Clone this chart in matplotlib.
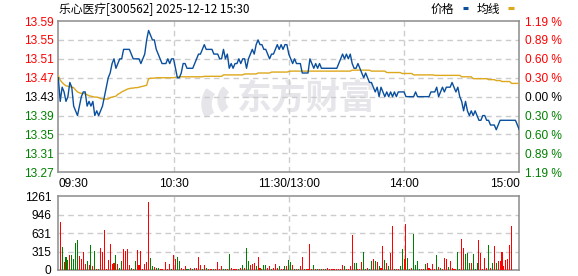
import numpy as np
import matplotlib
matplotlib.use("Agg")
import matplotlib.pyplot as plt
from matplotlib.patches import Wedge

# 乐心医疗 分时数据
prev_close = 13.43

price = [
    13.47, 13.42, 13.45, 13.44, 13.42, 13.43, 13.46, 13.45, 13.41, 13.40,
    13.39, 13.41, 13.43, 13.44, 13.44, 13.41, 13.42, 13.41, 13.42, 13.39,
    13.40, 13.39, 13.40, 13.41, 13.43, 13.45, 13.47, 13.48, 13.50, 13.51,
    13.49, 13.50, 13.51, 13.51, 13.53, 13.53, 13.53, 13.53, 13.52, 13.51,
    13.51, 13.51, 13.51, 13.50, 13.51, 13.52, 13.55, 13.57, 13.56, 13.55,
    13.55, 13.53, 13.52, 13.51, 13.50, 13.50, 13.50, 13.51, 13.50, 13.51,
    13.51, 13.49, 13.47, 13.47, 13.48, 13.50, 13.50, 13.49, 13.49, 13.49,
    13.49, 13.50, 13.51, 13.52, 13.52, 13.53, 13.54, 13.53, 13.53, 13.53,
    13.53, 13.52, 13.52, 13.52, 13.51, 13.51, 13.53, 13.51, 13.52, 13.49,
    13.50, 13.49, 13.50, 13.50, 13.51, 13.50, 13.51, 13.51, 13.49, 13.51,
    13.52, 13.53, 13.52, 13.54, 13.55, 13.54, 13.54, 13.53, 13.53, 13.52,
    13.51, 13.52, 13.52, 13.53, 13.54, 13.53, 13.54, 13.53, 13.54, 13.54,
    13.52, 13.51, 13.50, 13.51, 13.50, 13.50, 13.50, 13.48, 13.48, 13.48,
    13.48, 13.51, 13.50, 13.49, 13.50, 13.49, 13.50, 13.49, 13.49, 13.49,
    13.49, 13.49, 13.49, 13.49, 13.49, 13.49, 13.50, 13.51, 13.52, 13.51,
    13.52, 13.51, 13.52, 13.50, 13.49, 13.49, 13.50, 13.49, 13.48, 13.47,
    13.48, 13.47, 13.46, 13.46, 13.45, 13.44, 13.45, 13.43, 13.45, 13.44,
    13.43, 13.44, 13.43, 13.44, 13.43, 13.44, 13.43, 13.44, 13.44, 13.44,
    13.44, 13.43, 13.43, 13.43, 13.43, 13.43, 13.44, 13.43, 13.43, 13.43,
    13.43, 13.43, 13.43, 13.43, 13.44, 13.44, 13.44, 13.45, 13.43, 13.44,
    13.45, 13.44, 13.45, 13.45, 13.45, 13.46, 13.45, 13.44, 13.45, 13.43,
    13.42, 13.40, 13.42, 13.40, 13.39, 13.40, 13.39, 13.40, 13.39, 13.38,
    13.38, 13.39, 13.39, 13.38, 13.38, 13.37, 13.37, 13.37, 13.36, 13.37,
    13.38, 13.38, 13.38, 13.38, 13.38, 13.38, 13.38, 13.38, 13.38, 13.37,
    13.36,
]

avg = (
    [13.474, 13.465, 13.460, 13.456, 13.453, 13.452, 13.451, 13.450, 13.449, 13.444,
     13.440, 13.438, 13.437, 13.437, 13.436, 13.434, 13.432, 13.431, 13.430, 13.429,
     13.429, 13.428, 13.426, 13.425, 13.425, 13.425, 13.425, 13.428, 13.429, 13.430,
     13.431, 13.435, 13.437, 13.440, 13.442, 13.444, 13.446, 13.447, 13.448, 13.448,
     13.449, 13.449, 13.450, 13.451, 13.452, 13.453, 13.454, 13.468, 13.469, 13.469,
     13.469]
    + [13.470] * 10 + [13.471] + [13.472] * 14 + [13.473] * 10
    + [13.476] * 11 + [13.478] * 7 + [13.480] * 7 + [13.482] * 9 + [13.483]
    + [13.484] * 32 + [13.486] * 10 + [13.484] * 8 + [13.481] * 8
    + [13.479] * 6 + [13.476] * 11 + [13.475] * 14 + [13.472] * 6
    + [13.468] * 8 + [13.466] * 4 + [13.464] * 3 + [13.462] * 5 + [13.458] * 5
)

volume = [
    0,
    820, 393, 137, 222, 177, 257, 257, 188, 462, 513,
    240, 188, 308, 103, 148, 86, 428, 68, 325, 17,
    17, 376, 308, 684, 17, 171, 445, 103, 120, 257,
    103, 34, 154, 359, 325, 359, 86, 34, 17, 154,
    342, 86, 325, 17, 103, 137, 1163, 205, 68, 51,
    34, 34, 17, 17, 0, 137, 17, 103, 17, 257,
    188, 222, 154, 34, 17, 68, 17, 17, 34, 17,
    34, 34, 222, 86, 17, 86, 34, 17, 17, 17,
    17, 17, 137, 17, 68, 17, 17, 17, 274, 34,
    17, 17, 17, 17, 34, 86, 34, 376, 154, 86,
    103, 120, 68, 222, 34, 17, 86, 86, 34, 68,
    17, 34, 103, 34, 68, 17, 17, 68, 68, 171,
    137, 86, 17, 17, 17, 68, 222, 17, 17, 17,
    445, 17, 86, 17, 17, 17, 17, 17, 17, 34,
    17, 17, 17, 17, 17, 17, 17, 86, 68, 17,
    17, 68, 599, 120, 120, 17, 17, 137, 308, 17,
    34, 17, 154, 188, 154, 137, 68, 34, 410, 171,
    120, 68, 291, 752, 17, 17, 17, 68, 359, 188,
    787, 205, 17, 34, 616, 86, 154, 17, 17, 17,
    103, 120, 34, 17, 103, 17, 257, 51, 34, 17,
    205, 188, 51, 154, 34, 17, 17, 308, 17, 530,
    376, 274, 291, 120, 120, 274, 17, 120, 513, 291,
    17, 205, 34, 428, 34, 120, 410, 120, 154, 154,
    308, 68, 171, 188, 428, 752, 0, 0, 0, 581,
]

# r = 上涨(红), g = 下跌(绿)
vol_dir = ("r"
           "rgrggrgggg" "rrrrgrgrgr" "grrrrrrrrg" "rggrrrrgrg" "rrrrrrrggr"
           "ggrrrrrrgr" "rggrrrggrg" "rrrrgrgrrr" "grrrrggrgr" "rrrgrgrggr"
           "rrgrrgggrr" "grrrgrrgrg" "grgrgrrgrr" "rrgrgrgrgr" "rrrrrrrrgr"
           "rrrggrrrgg" "rggrgrgrrg" "rgrrgrrggr" "rggrggggrr" "grrrrrgrgr"
           "rrgrrrrggr" "rgggrgggrr" "rrrgrgrgrr" "rrrrrrrrrg")

price_levels = [13.59, 13.55, 13.51, 13.47, 13.43, 13.39, 13.35, 13.31, 13.27]
price_labels = ["13.59", "13.55", "13.51", "13.47", "13.43", "13.39", "13.35", "13.31", "13.27"]
pct_labels = ["1.19 %", "0.89 %", "0.60 %", "0.30 %", "0.00 %", "0.30 %", "0.60 %", "0.89 %", "1.19 %"]
vol_levels = [0, 315, 631, 946, 1261]
vol_labels = ["0", "315", "631", "946", "1261"]
time_pos = [0, 60, 120, 180, 240]
time_labels = ["09:30", "10:30", "11:30/13:00", "14:00", "15:00"]

RED = "#ff0000"
GREEN = "#008000"
BLUE = "#0a4f9e"
GOLD = "#dea81c"
GRID = "#cccccc"
SPINE = "#8c8c8c"
NUM_FONT = "Liberation Sans"
CJK = ["Noto Sans CJK SC", "DejaVu Sans"]

W, H = 578, 276
fig = plt.figure(figsize=(W / 100, H / 100), dpi=100)
fig.patch.set_facecolor("white")

L, R = 58.3, 519.3
rect_p = [L / W, 1 - 172.3 / H, (R - L) / W, 151.3 / H]
rect_v = [L / W, 1 - 270.0 / H, (R - L) / W, 73.7 / H]

# 水印
axw = fig.add_axes(rect_p, zorder=0)
axw.set_xlim(L, R)
axw.set_ylim(172.3, 21)
axw.axis("off")
axw.text(306, 98, "东方财富", family=CJK, fontsize=25, fontweight="bold",
         color="#e6e6ea", ha="center", va="center")
axw.add_patch(Wedge((228, 104), 26, 150, 215, width=9, color="#e6e6ea"))
axw.add_patch(Wedge((236, 100), 18, 140, 225, width=7, color="#e6e6ea"))

ax = fig.add_axes(rect_p, zorder=1)
ax.patch.set_visible(False)
x = np.arange(len(price))

for lv in price_levels[1:-1]:
    ax.axhline(lv, color=GRID, lw=1, dashes=(4, 3), zorder=1)
for t in time_pos[1:-1]:
    ax.axvline(t, color=GRID, lw=1, dashes=(4, 3), zorder=1)

ax.plot(x, avg, color=GOLD, lw=1.0, zorder=3)
ax.plot(x, price, color=BLUE, lw=1.0, zorder=4)

ax.set_xlim(0, 240)
ax.set_ylim(price_levels[-1], price_levels[0])
for s in ax.spines.values():
    s.set_color(SPINE)
    s.set_linewidth(1.1)

ax.set_yticks(price_levels)
ax.set_yticklabels(price_labels, family=NUM_FONT, fontsize=8.6)
ax.tick_params(axis="y", length=0, pad=3)
ax.set_xticks(time_pos)
ax.set_xticklabels(time_labels, family=NUM_FONT, fontsize=8.6)
ax.tick_params(axis="x", length=0, pad=4)
xl = ax.get_xticklabels()
xl[0].set_ha("left")
xl[-1].set_ha("right")

ax2 = ax.twinx()
ax2.set_ylim(price_levels[-1], price_levels[0])
ax2.set_yticks(price_levels)
ax2.set_yticklabels(pct_labels, family=NUM_FONT, fontsize=8.6)
ax2.tick_params(axis="y", length=0, pad=4)
for s in ax2.spines.values():
    s.set_visible(False)

def level_color(v):
    if v > prev_close + 1e-9:
        return RED
    if v < prev_close - 1e-9:
        return GREEN
    return "black"

for lab, lv in zip(ax.get_yticklabels(), price_levels):
    lab.set_color(level_color(lv))
for lab, lv in zip(ax2.get_yticklabels(), price_levels):
    lab.set_color(level_color(lv))

# 成交量
axv = fig.add_axes(rect_v, zorder=1)
for lv in vol_levels[1:-1]:
    axv.axhline(lv, color=GRID, lw=1, dashes=(4, 3), zorder=1)
for t in time_pos[1:-1]:
    axv.axvline(t, color=GRID, lw=1, dashes=(4, 3), zorder=1)
bar_colors = [RED if d == "r" else GREEN for d in vol_dir]
axv.bar(x, volume, width=0.55, color=bar_colors, zorder=3)
axv.set_xlim(0, 240)
axv.set_ylim(0, vol_levels[-1])
axv.set_yticks(vol_levels)
axv.set_yticklabels(vol_labels, family=NUM_FONT, fontsize=8.6)
axv.tick_params(axis="y", length=0, pad=5)
axv.set_xticks([])
for s in axv.spines.values():
    s.set_color(SPINE)
    s.set_linewidth(1.1)

# 标题和图例
fig.text(59 / W, 1 - 9 / H, "乐心医疗[300562] 2025-12-12 15:30", family=CJK,
         fontsize=8.5, va="center", ha="left")
fig.text(431 / W, 1 - 9 / H, "价格", family=CJK, fontsize=8.5, va="center", ha="left")
fig.text(477 / W, 1 - 9 / H, "均线", family=CJK, fontsize=8.5, va="center", ha="left")
fig.add_artist(plt.Line2D([463 / W, 468 / W], [1 - 8 / H, 1 - 8 / H], color=BLUE, lw=2.2,
                          solid_capstyle="butt", transform=fig.transFigure))
fig.add_artist(plt.Line2D([508 / W, 514 / W], [1 - 8 / H, 1 - 8 / H], color=GOLD, lw=2.2,
                          solid_capstyle="butt", transform=fig.transFigure))

fig.savefig("out.png", dpi=100)
